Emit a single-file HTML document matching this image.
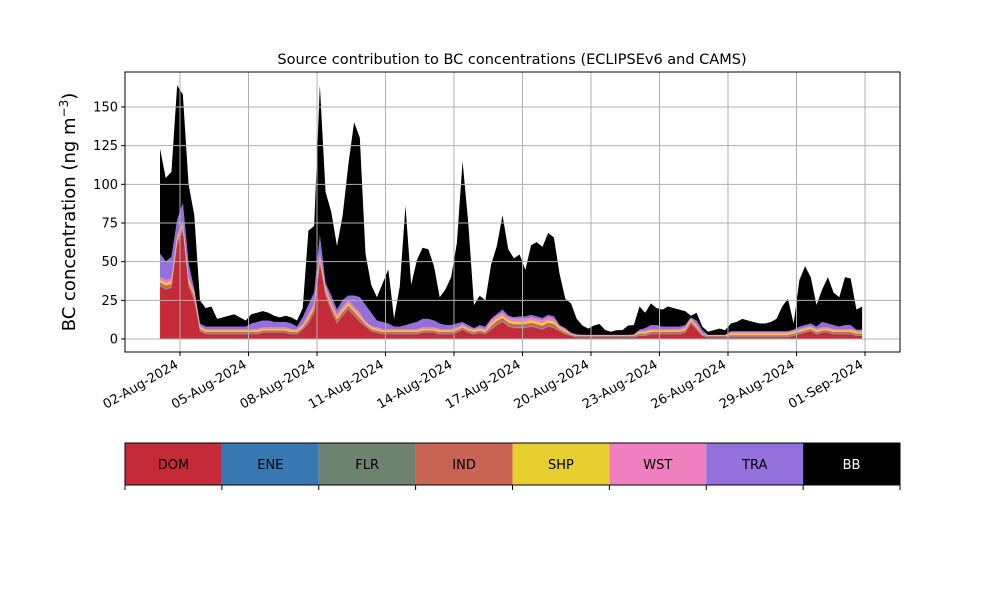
<!DOCTYPE html>
<html><head><meta charset="utf-8"><style>
body{margin:0;background:#fff;}
svg{display:block;font-family:"DejaVu Sans","Liberation Sans",sans-serif;}
</style></head><body>
<svg id="chart" width="1000" height="600" viewBox="0 0 1000 600" xmlns="http://www.w3.org/2000/svg">
<rect width="1000" height="600" fill="#fff"/>
<text x="512" y="64" font-size="14.5" text-anchor="middle">Source contribution to BC concentrations (ECLIPSEv6 and CAMS)</text>
<g id="plot"></g>
<g id="legend"></g>
</svg>
<script>
const sources = ["DOM","ENE","FLR","IND","SHP","WST","TRA","BB"];
const colors = ["#c42a37","#3878b0","#6e8270","#c96455","#e6cf2e","#f07fbf","#9370db","#000000"];
const startDay = 1.125; // days since 2024-08-01 00:00
const stepDays = 0.25;
const dom = [34,32,33,61,70,34,25,5,3,3,3,3,3,3,3,3,3,3,4,4,4,4,4,3,3,6,10,17,49,28,18,10,15,19,15,11,8,5,4,3,3,3,3,3,3,3,4,4,4,3,3,3,4,6,4,3,4,3,6,9,11,8,7,7,7,8,7,6,8,7,5,3,2,1,1,1,1,1,1,1,1,1,1,1,2,2,3,3,3,3,3,3,4,10,6,2,1,1,1,1,1,1,1,1,1,1,1,1,1,1,1,2,3,4,5,3,4,4,3,3,3,3,2,2];
const ene = [0.3,0.3,0.3,0.3,0.3,0.3,0.3,0.2,0.2,0.2,0.2,0.2,0.2,0.2,0.2,0.2,0.2,0.2,0.2,0.2,0.2,0.2,0.2,0.2,0.2,0.2,0.3,0.3,0.3,0.3,0.3,0.3,0.3,0.3,0.3,0.3,0.2,0.2,0.2,0.2,0.2,0.2,0.2,0.2,0.2,0.2,0.2,0.2,0.2,0.2,0.2,0.2,0.2,0.2,0.2,0.2,0.2,0.2,0.3,0.3,0.3,0.3,0.3,0.3,0.3,0.3,0.3,0.3,0.3,0.3,0.2,0.2,0.2,0.2,0.2,0.2,0.2,0.2,0.2,0.2,0.2,0.2,0.2,0.2,0.2,0.2,0.2,0.2,0.2,0.2,0.2,0.2,0.2,0.2,0.2,0.2,0.2,0.2,0.2,0.2,0.2,0.2,0.2,0.2,0.2,0.2,0.2,0.2,0.2,0.2,0.2,0.2,0.2,0.2,0.2,0.2,0.2,0.2,0.2,0.2,0.2,0.2,0.2,0.2];
const flr = [0.3,0.3,0.3,0.3,0.3,0.3,0.3,0.3,0.3,0.3,0.3,0.3,0.3,0.3,0.3,0.3,0.3,0.3,0.3,0.3,0.3,0.3,0.3,0.3,0.3,0.3,0.3,0.3,0.3,0.3,0.3,0.3,0.3,0.3,0.3,0.3,0.3,0.3,0.3,0.3,0.3,0.3,0.3,0.3,0.3,0.3,0.3,0.3,0.3,0.3,0.3,0.3,0.3,0.3,0.3,0.3,0.3,0.3,0.3,0.3,0.3,0.3,0.3,0.3,0.3,0.3,0.3,0.3,0.3,0.3,0.3,0.3,0.3,0.3,0.3,0.3,0.3,0.3,0.3,0.3,0.3,0.3,0.3,0.3,0.3,0.3,0.3,0.3,0.3,0.3,0.3,0.3,0.3,0.3,0.3,0.3,0.3,0.3,0.3,0.3,0.3,0.3,0.3,0.3,0.3,0.3,0.3,0.3,0.3,0.3,0.3,0.3,0.3,0.3,0.3,0.3,0.3,0.3,0.3,0.3,0.3,0.3,0.3,0.3];
const ind = [2,2,2,2,2,2,2,1,1,1,1,1,1,1,1,1,1,1,1,1,1,1,1,1,1,1,2,2,2,2,2,2,2,2,2,2,1,1,1,1,1,1,1,1,1,1,1,1,1,1,1,1,1,1,1,1,1,1,2,2,2,2,2,2,2,2,2,2,2,2,1,1,0.4,0.4,0.4,0.4,0.4,0.4,0.4,0.4,0.4,0.4,0.4,0.4,1,1,1,1,1,1,1,1,1,1,1,0.4,0.4,0.4,0.4,0.4,1,1,1,1,1,1,1,1,1,1,1,1,1,1,1,1,1,1,1,1,1,1,1,1];
const shp = [1.5,1.5,1.5,1.5,1.5,1.5,1.5,1,1,1,1,1,1,1,1,1,1,1,1,1,1,1,1,1,1,1,1.5,1.5,1.5,1.5,1.5,1.5,1.5,1.5,1.5,1.5,1,1,1,1,1,1,1,1,1,1,1,1,1,1,1,1,1,1,1,1,1,1,1.5,1.5,1.5,1.5,1.5,1.5,1.5,1.5,1.5,1.5,1.5,1.5,1,1,0.3,0.3,0.3,0.3,0.3,0.3,0.3,0.3,0.3,0.3,0.3,0.3,1,1,1,1,1,1,1,1,1,1,1,0.3,0.3,0.3,0.3,0.3,1,1,1,1,1,1,1,1,1,1,1,1,1,1,1,1,1,1,1,1,1,1,1,1];
const wst = [2,2,2,2,2,2,2,1,1,1,1,1,1,1,1,1,1,1,1,1,1,1,1,1,1,1,2,2,2,2,2,2,2,2,2,2,1,1,1,1,1,1,1,1,1,1,1,1,1,1,1,1,1,1,1,1,1,1,2,2,2,2,2,2,2,2,2,2,2,2,1,1,0.3,0.3,0.3,0.3,0.3,0.3,0.3,0.3,0.3,0.3,0.3,0.3,1,1,1,1,1,1,1,1,1,1,1,0.3,0.3,0.3,0.3,0.3,1,1,1,1,1,1,1,1,1,1,1,1,1,1,1,1,1,1,1,1,1,1,1,1];
const tra = [15,12,14,10,12,9,1,1.5,1.5,1.5,1.5,1.5,1.5,1.5,1.5,1.5,3.5,4.5,4.5,4.5,3.5,3.5,3.5,3.5,1.5,4.5,6,7,12,2,4,3,4,3,7,10,10.5,8.5,4.5,4.5,3.5,1.5,1.5,2.5,3.5,4.5,5.5,5.5,4.5,3.5,2.5,2.5,2.5,1.5,1.5,0.5,1.5,1.5,1,1,2,1,1,1.5,1.5,1.5,1.5,1.5,1.5,1.5,0.5,0.5,0.5,0.5,0.2,0.2,0.2,0.2,0.2,0.2,0.2,0.2,0.2,0.5,0.5,1.5,2.5,2.5,1.5,1.5,1.5,1.5,1.5,0.5,2.5,2.5,0.2,0.2,0.2,0.2,0.5,0.5,0.5,0.5,0.5,0.5,0.5,0.5,0.5,0.5,0.5,0.5,1.5,1.5,1.5,1.5,3.5,2.5,2.5,1.5,2.5,2.5,0.5,0.5];
const bb = [68,54,55,87,70,51,48,15,12,13,5,6,7,8,6,4,6,6,6,5,4,3,4,4,4,6,48,43,97,59,54,41,55,85,112,103,33,18,15,25,35,5,26,77,25,40,46,45,35,17,23,31,52,104,66,15,19,17,35,44,61,43,38,40,30,45,48,46,53,51,33,19,19,10,6,4,6,7,3,2,3,3,6,6,15,10,14,11,11,13,12,11,9,1,5,2,2,3,4,3,5,6,8,7,6,5,5,6,8,16,21,4,30,38,30,14,21,30,21,19,31,30,13,15];
const yTicks = [0,25,50,75,100,125,150];
const xTickDays = [2,5,8,11,14,17,20,23,26,29,32];
const xTickLabels = ["02-Aug-2024","05-Aug-2024","08-Aug-2024","11-Aug-2024","14-Aug-2024","17-Aug-2024","20-Aug-2024","23-Aug-2024","26-Aug-2024","29-Aug-2024","01-Sep-2024"];

const NS = "http://www.w3.org/2000/svg";
const L = 125, R = 900, T = 72, B = 352;
function xScale(d){ return 180 + (d - 2) * 22.833; }
function yScale(v){ return 339 - v * 1.5467; }
function mk(tag, attrs, parent){ const e = document.createElementNS(NS, tag); for (const k in attrs) e.setAttribute(k, attrs[k]); parent.appendChild(e); return e; }

const plot = document.getElementById("plot");
const series = [dom, ene, flr, ind, shp, wst, tra, bb];
const n = dom.length;
const base = new Array(n).fill(0);
series.forEach((s, k) => {
  const top = base.map((b, i) => b + s[i]);
  let d = "";
  for (let i = 0; i < n; i++) d += (i ? "L" : "M") + xScale(startDay + i * stepDays).toFixed(2) + "," + yScale(top[i]).toFixed(2);
  for (let i = n - 1; i >= 0; i--) d += "L" + xScale(startDay + i * stepDays).toFixed(2) + "," + yScale(base[i]).toFixed(2);
  const p = mk("path", {d: d + "Z", fill: colors[k], stroke: "none"}, plot);
  
  
  for (let i = 0; i < n; i++) base[i] = top[i];
});
// grid (over data)
yTicks.forEach((v, i) => {
  const y = yScale(v);
  const g = mk("line", {x1: L, x2: R, y1: y, y2: y, stroke: "#b0b0b0", "stroke-width": 1}, plot);
  
  
  mk("line", {x1: L - 4, x2: L, y1: y, y2: y, stroke: "#000"}, plot);
  const t = mk("text", {x: L - 7, y: y + 4.5, "font-size": 13, "text-anchor": "end"}, plot);
  t.textContent = String(v);
  
  
});
xTickDays.forEach((d, i) => {
  const x = xScale(d);
  const g = mk("line", {x1: x, x2: x, y1: T, y2: B, stroke: "#b0b0b0", "stroke-width": 1}, plot);
  
  
  mk("line", {x1: x, x2: x, y1: B, y2: B + 4, stroke: "#000"}, plot);
  const t = mk("text", {x: x - 1, y: B + 15, "font-size": 13, "text-anchor": "end", transform: "rotate(-30 " + (x - 1) + " " + (B + 15) + ")"}, plot);
  t.textContent = xTickLabels[i];
  
  
});
const frame = mk("rect", {x: L, y: T, width: R - L, height: B - T, fill: "none", stroke: "#000", "stroke-width": 1}, plot);


const yl = mk("text", {x: 0, y: 0, "font-size": 18, "text-anchor": "middle", transform: "translate(75 212) rotate(-90)"}, plot);
yl.innerHTML = 'BC concentration (ng m<tspan dy="-7" font-size="12">−3</tspan><tspan dy="7">)</tspan>';



// legend colorbar
const leg = document.getElementById("legend");
const w = (R - L) / sources.length;
sources.forEach((s, k) => {
  const x0 = L + k * w;
  const r = mk("rect", {x: x0, y: 443, width: w, height: 42, fill: colors[k]}, leg);
  
  
  const t = mk("text", {x: x0 + w / 2, y: 469, "font-size": 13, "text-anchor": "middle", fill: k === 7 ? "#fff" : "#000"}, leg);
  t.textContent = s;
  
  
});
for (let k = 0; k <= sources.length; k++) {
  const x = L + k * w;
  mk("line", {x1: x, x2: x, y1: 485, y2: 490, stroke: "#000"}, leg);
}
const lf = mk("rect", {x: L, y: 443, width: R - L, height: 42, fill: "none", stroke: "#000", "stroke-width": 1}, leg);


</script>
</body></html>
